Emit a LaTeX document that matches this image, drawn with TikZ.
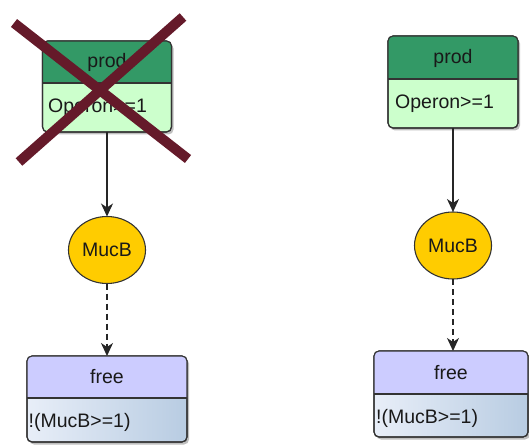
\documentclass[tikz,border=0pt]{standalone}
\usepackage{fontspec}
\setmainfont{Liberation Sans}
\usetikzlibrary{arrows.meta,shadows,shapes.geometric}
\definecolor{hdrgreen}{HTML}{339966}
\definecolor{bodygreen}{HTML}{CCFFCC}
\definecolor{hdrblue}{HTML}{CCCCFF}
\definecolor{bodyblueL}{HTML}{E8EEF8}
\definecolor{bodyblueR}{HTML}{B8CCE2}
\definecolor{gold}{HTML}{FFCC00}
\definecolor{edge}{HTML}{333333}
\definecolor{crosscol}{HTML}{651A2A}
\tikzset{
  box/.style={draw=edge, line width=1.1pt, rounded corners=5pt, inner sep=0pt, outer sep=0pt,
    drop shadow={shadow xshift=2pt, shadow yshift=-2.5pt, opacity=0.25, fill=black}},
  outline/.style={draw=edge, line width=1.1pt, rounded corners=5pt},
  divider/.style={draw=edge, line width=1.1pt},
  lbl/.style={font=\fontsize{19.5}{22}\selectfont, inner sep=0pt, text=black!90},
  mucnode/.style={ellipse, draw=edge, line width=1.1pt, fill=gold, minimum width=77pt,
    minimum height=67pt, inner sep=0pt, outer sep=0pt, font=\fontsize{19.5}{22}\selectfont, text=black!90},
  conn/.style={-{Stealth[length=13pt,width=12pt,inset=4pt]}, line width=1.1pt, draw=black!85},
  dconn/.style={conn, dash pattern=on 6pt off 4pt},
  crossline/.style={draw=crosscol, line width=10pt}
}
\begin{document}
\begin{tikzpicture}[x=1pt,y=-1pt]
\useasboundingbox (0,0) rectangle (529,446);

% ---- left prod box ----
\node[box, fill=bodygreen, minimum width=129pt, minimum height=91pt] (prodL) at (107,86.5) {};
\fill[hdrgreen] ([yshift=-42pt]prodL.north west) [rounded corners=5pt] -- (prodL.north west) -- (prodL.north east) [sharp corners] -- ([yshift=-42pt]prodL.north east) -- cycle;
\draw[divider] ([yshift=-42pt]prodL.north west) -- ([yshift=-42pt]prodL.north east);
\draw[outline] (prodL.north west) rectangle (prodL.south east);
\node[lbl] (prodLh) at (107,62) {prod};
\node[lbl, anchor=west] (prodLb) at (48,107.5) {Operon>=1};

% ---- right prod box ----
\node[box, fill=bodygreen, minimum width=130pt, minimum height=92pt] (prodR) at (453,82) {};
\fill[hdrgreen] ([yshift=-43pt]prodR.north west) [rounded corners=5pt] -- (prodR.north west) -- (prodR.north east) [sharp corners] -- ([yshift=-43pt]prodR.north east) -- cycle;
\draw[divider] ([yshift=-43pt]prodR.north west) -- ([yshift=-43pt]prodR.north east);
\draw[outline] (prodR.north west) rectangle (prodR.south east);
\node[lbl] (prodRh) at (453,58) {prod};
\node[lbl, anchor=west] (prodRb) at (395,103.5) {Operon>=1};

% ---- MucB ellipses ----
\node[mucnode] (mucL) at (107,250) {MucB};
\node[mucnode] (mucR) at (453,245.5) {MucB};

% ---- left free box ----
\node[box, left color=bodyblueL, right color=bodyblueR, minimum width=160pt, minimum height=86pt] (freeL) at (107,399) {};
\fill[hdrblue] ([yshift=-42pt]freeL.north west) [rounded corners=5pt] -- (freeL.north west) -- (freeL.north east) [sharp corners] -- ([yshift=-42pt]freeL.north east) -- cycle;
\draw[divider] ([yshift=-42pt]freeL.north west) -- ([yshift=-42pt]freeL.north east);
\draw[outline] (freeL.north west) rectangle (freeL.south east);
\node[lbl] (freeLh) at (107,377) {free};
\node[lbl, anchor=west] (freeLb) at (28.5,422) {!(MucB>=1)};

% ---- right free box ----
\node[box, left color=bodyblueL, right color=bodyblueR, minimum width=154pt, minimum height=86pt] (freeR) at (451,394) {};
\fill[hdrblue] ([yshift=-43pt]freeR.north west) [rounded corners=5pt] -- (freeR.north west) -- (freeR.north east) [sharp corners] -- ([yshift=-43pt]freeR.north east) -- cycle;
\draw[divider] ([yshift=-43pt]freeR.north west) -- ([yshift=-43pt]freeR.north east);
\draw[outline] (freeR.north west) rectangle (freeR.south east);
\node[lbl] (freeRh) at (451,372.5) {free};
\node[lbl, anchor=west] (freeRb) at (376,418) {!(MucB>=1)};

% ---- connectors ----
\draw[conn] (prodL.south) -- (mucL.north);
\draw[dconn] (mucL.south) -- (mucL.south |- freeL.north);
\draw[conn] (prodR.south) -- (mucR.north);
\draw[dconn] (mucR.south) -- (mucR.south |- freeR.north);

% ---- cross over left prod ----
\draw[crossline] (14,23) -- (188,159);
\draw[crossline] (183,17) -- (19,162);
\end{tikzpicture}
\end{document}
